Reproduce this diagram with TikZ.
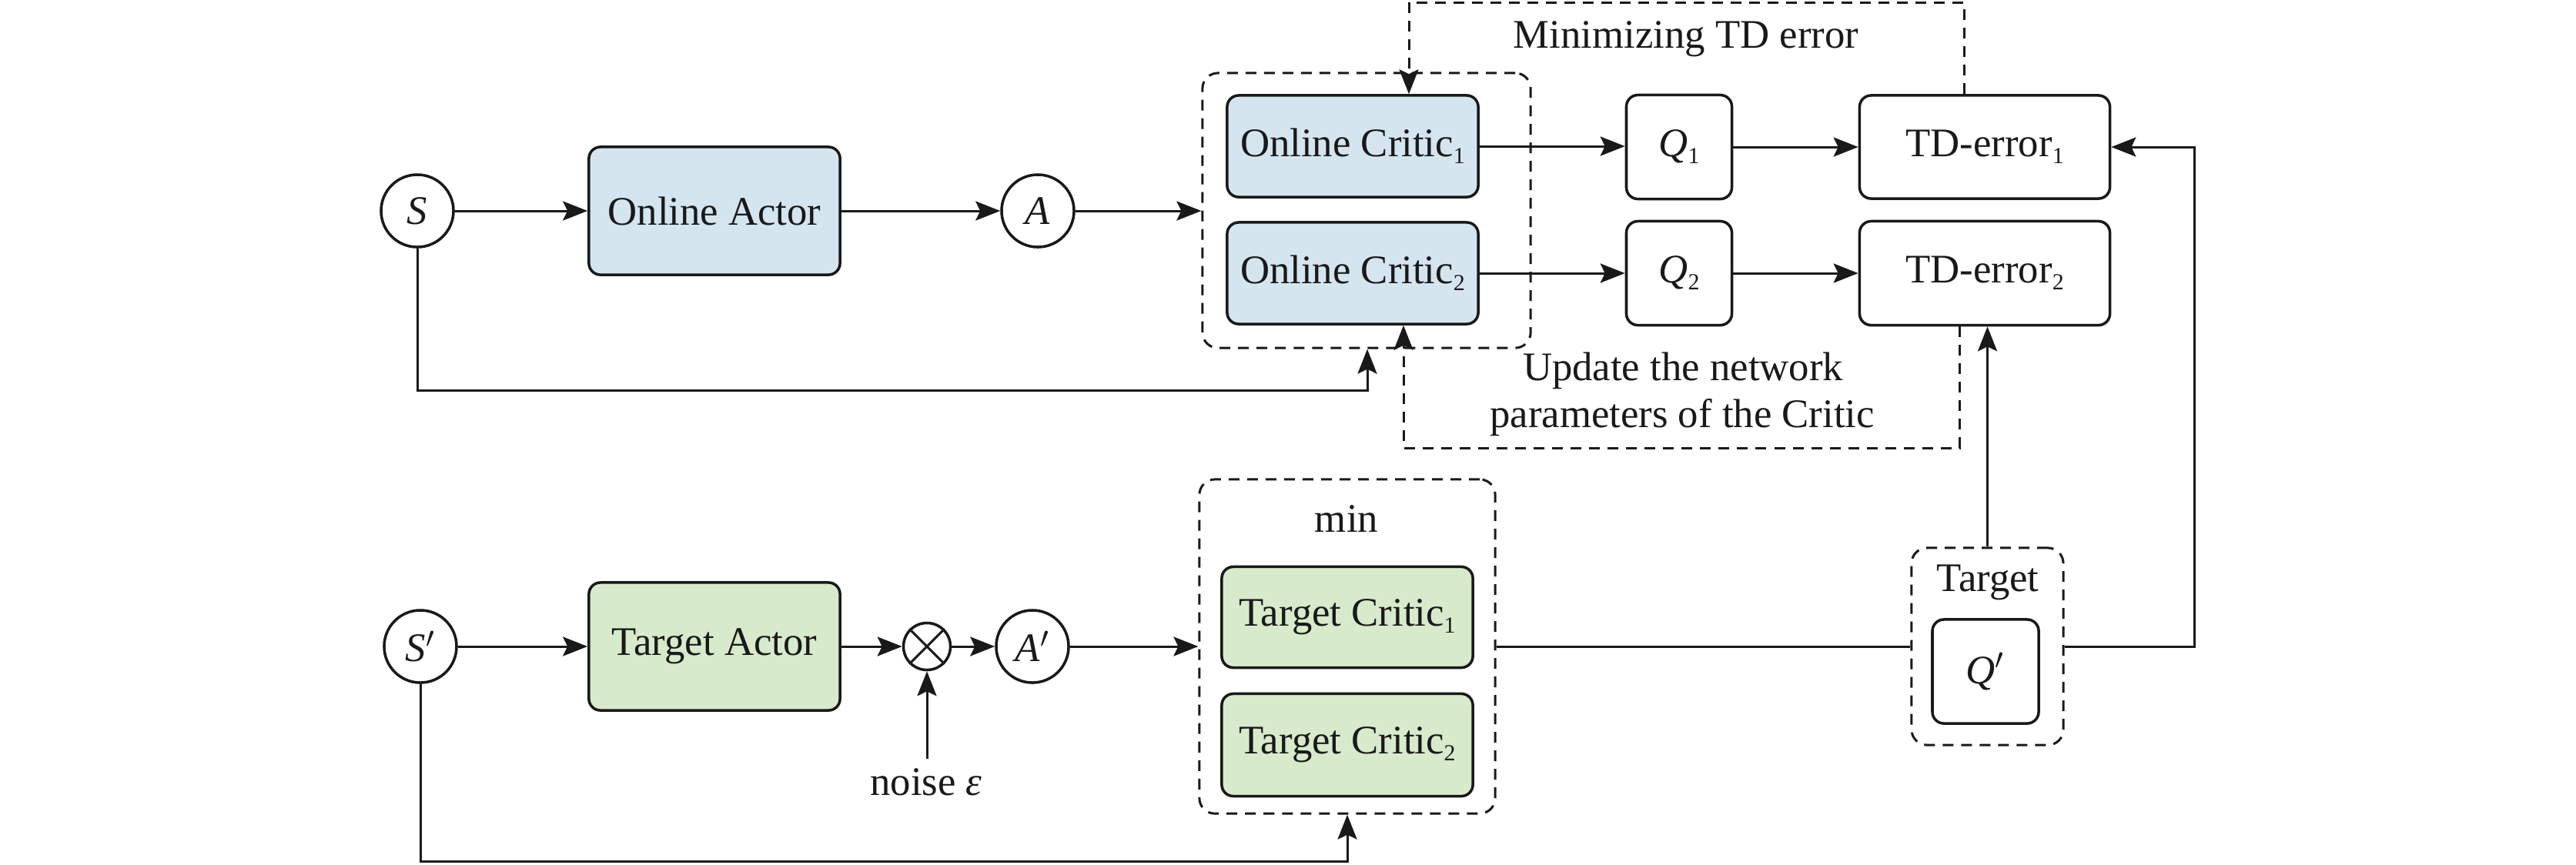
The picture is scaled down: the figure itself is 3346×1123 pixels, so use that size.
\documentclass[tikz,border=0pt]{standalone}
\usepackage{fontspec}
\setmainfont{Liberation Serif}
\usetikzlibrary{arrows.meta}
\definecolor{onlineblue}{RGB}{213,229,240}
\definecolor{targetgreen}{RGB}{215,234,203}
\newcommand\sbs[1]{\raisebox{-0.17em}{\fontsize{8.5}{9}\selectfont #1}}
\begin{document}
\begin{tikzpicture}[x=0.01cm,y=-0.01cm,
  every node/.style={font=\fontsize{15}{18}\selectfont, text=black!90},
  box/.style={draw=black!90, line width=1pt, rounded corners=0.15cm, inner sep=0pt, align=center},
  bluebox/.style={box, fill=onlineblue, minimum width=3.26cm},
  greenbox/.style={box, fill=targetgreen, minimum width=3.26cm},
  circ/.style={draw=black!90, circle, minimum size=0.94cm, inner sep=0pt, line width=1pt},
  dbox/.style={draw=black!90, line width=0.85pt, dash pattern=on 0.14cm off 0.1cm, rounded corners=0.2cm, inner sep=0pt},
  dline/.style={draw=black!90, line width=0.85pt, dash pattern=on 0.14cm off 0.1cm},
  arr/.style={draw=black!90, line width=0.85pt, -{Stealth[length=0.32cm,width=0.25cm,inset=0.06cm]}},
  ln/.style={draw=black!90, line width=0.85pt}
]
\path[use as bounding box] (0,0) rectangle (3346,1123);

% ---- online part ----
\node[circ] (S) at (542,274) {\textit{S}};
\node[bluebox, minimum height=1.66cm] (OA) at (928,274) {Online Actor};
\node[circ] (A) at (1348,274) {\textit{A}};
\node[dbox, minimum width=4.26cm, minimum height=3.57cm] (OCB) at (1775,273.5) {};
\node[bluebox, minimum height=1.32cm] (OC1) at (1757,190) {Online Critic\sbs{1}};
\node[bluebox, minimum height=1.32cm] (OC2) at (1757,355) {Online Critic\sbs{2}};
\node[box, minimum width=1.37cm, minimum height=1.35cm] (Q1) at (2181,191) {\textit{Q}\sbs{1}};
\node[box, minimum width=1.37cm, minimum height=1.35cm] (Q2) at (2181,355) {\textit{Q}\sbs{2}};
\node[box, minimum width=3.25cm, minimum height=1.34cm] (TD1) at (2578,191) {TD-error\sbs{1}};
\node[box, minimum width=3.25cm, minimum height=1.35cm] (TD2) at (2578,355) {TD-error\sbs{2}};
\node[anchor=base] (mintd) at (2190,62) {Minimizing TD error};
\node[anchor=base] (upd1) at (2186,494) {Update the network};
\node[anchor=base] (upd2) at (2185,555) {parameters of the Critic};

\draw[arr] (S) -- (OA);
\draw[arr] (OA) -- (A);
\draw[arr] (A.east) -- (A.east -| OCB.west);
\draw[arr] (OC1.east) -- (OC1.east -| Q1.west);
\draw[arr] (OC2.east) -- (OC2.east -| Q2.west);
\draw[arr] (Q1) -- (TD1);
\draw[arr] (Q2) -- (TD2);

\coordinate (c1) at (2551,3);
\coordinate (c2) at (1830,3);
\draw[dline, arr, dash pattern=on 0.14cm off 0.1cm] (TD1.north -| c1) -- (c1) -- (c2) -- (OC1.north -| c2);
\coordinate (c3) at (2545,582);
\coordinate (c4) at (1823,582);
\draw[dline, arr, dash pattern=on 0.14cm off 0.1cm] (TD2.south -| c3) -- (c3) -- (c4) -- (OC2.south -| c4);

\coordinate (c5) at (544,507);
\coordinate (c6) at (1776,507);
\draw[arr] (S.south) -- (S.south |- c5) -- (c6) -- (OCB.south -| c6);

% ---- target part ----
\node[circ] (Sp) at (546,840) {\textit{S}$'$};
\node[greenbox, minimum height=1.66cm] (TA) at (928,840) {Target Actor};
\node[draw=black!90, circle, minimum size=0.61cm, inner sep=0pt, line width=1pt] (ot) at (1204,840) {};
\draw[ln] (ot.north west) -- (ot.south east) (ot.north east) -- (ot.south west);
\node[circ] (Ap) at (1341,840) {\textit{A}$'$};
\node[dbox, minimum width=3.84cm, minimum height=4.34cm] (TCB) at (1750,840) {};
\node[anchor=base] (minl) at (1749,691) {min};
\node[greenbox, minimum height=1.31cm] (TC1) at (1750,802) {Target Critic\sbs{1}};
\node[greenbox, minimum height=1.33cm] (TC2) at (1750,968) {Target Critic\sbs{2}};
\node[dbox, minimum width=1.97cm, minimum height=2.56cm] (TB) at (2581.5,840) {};
\node[anchor=base] (tgt) at (2582,768) {Target};
\node[box, minimum width=1.38cm, minimum height=1.35cm] (Qp) at (2579,872.5) {\textit{Q}$'$};
\node[anchor=base] (noise) at (1203,1033) {noise \textit{ε}};

\draw[arr] (Sp) -- (TA);
\draw[arr] (TA) -- (ot);
\draw[arr] (ot) -- (Ap);
\draw[arr] (Ap.east) -- (Ap.east -| TCB.west);
\draw[arr] (ot.south |- noise.north) -- (ot.south);
\draw[ln] (TCB.east) -- (TB.west);
\draw[arr] (TB.north) -- (TB.north |- TD2.south);
\coordinate (c7) at (2850,838);
\draw[arr] (TB.east) -- (TB.east -| c7) -- (c7 |- TD1.east) -- (TD1.east);
\coordinate (c8) at (544,1119);
\draw[arr] (Sp.south) -- (Sp.south |- c8) -- (c8 -| TCB.south) -- (TCB.south);
\end{tikzpicture}
\end{document}
